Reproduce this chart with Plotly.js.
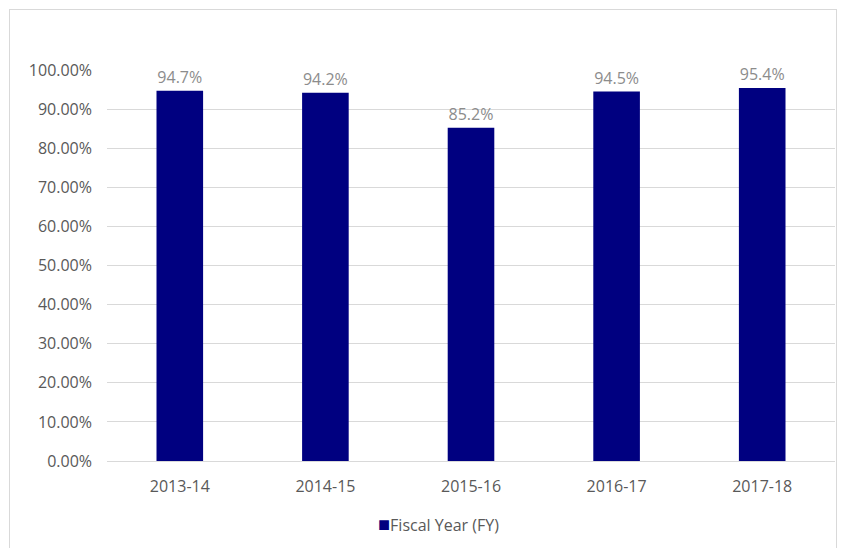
<!DOCTYPE html>
<html>
<head>
<meta charset="utf-8">
<script src="https://cdn.plot.ly/plotly-3.0.1.min.js"></script>
<style>
html,body{margin:0;padding:0;background:#fff;}
#frame{position:absolute;left:9px;top:9px;width:828px;height:560px;border:1px solid #d9d9d9;box-sizing:border-box;}
#chart{position:absolute;left:0;top:0;width:842px;height:548px;}
</style>
</head>
<body>
<div id="frame"></div>
<div id="chart"></div>
<script>
const categories = ["2013-14", "2014-15", "2015-16", "2016-17", "2017-18"];
const values = [94.7, 94.2, 85.2, 94.5, 95.4];
const seriesName = "Fiscal Year (FY)";
const yTicks = [0, 10, 20, 30, 40, 50, 60, 70, 80, 90, 100];

const fontFamily = "'Open Sans', 'Liberation Sans', sans-serif";
const barColor = "#000080";

const trace = {
  type: "bar",
  x: categories,
  y: values,
  name: seriesName,
  marker: {color: barColor},
  text: values.map(v => v.toFixed(1) + "%"),
  textposition: "outside",
  textfont: {color: "#8c8c8c", size: 16, family: fontFamily},
  cliponaxis: false,
  showlegend: false,
  hoverinfo: "x+y"
};

const layout = {
  width: 842,
  height: 548,
  paper_bgcolor: "rgba(0,0,0,0)",
  plot_bgcolor: "rgba(0,0,0,0)",
  margin: {l: 107, r: 7, t: 70, b: 87},
  bargap: 0.68,
  font: {family: fontFamily, color: "#595959", size: 16},
  xaxis: {
    type: "category",
    showgrid: false,
    showline: false,
    ticks: "",
    tickfont: {size: 16, color: "#595959"},
    ticklabelstandoff: 14
  },
  yaxis: {
    range: [0, 100],
    tickvals: yTicks,
    ticktext: yTicks.map(v => v.toFixed(2) + "%"),
    showgrid: true,
    gridcolor: "#d9d9d9",
    gridwidth: 1,
    zeroline: true,
    zerolinecolor: "#d9d9d9",
    showline: false,
    ticks: "",
    ticklabelstandoff: 14,
    tickfont: {size: 16, color: "#595959"}
  },
  annotations: [{
    xref: "paper", yref: "paper",
    x: 0.455, y: -0.16,
    xanchor: "center", yanchor: "middle",
    showarrow: false,
    text: '<span style="color:' + barColor + ';font-size:20px">■</span>' + seriesName,
    font: {size: 16, color: "#595959", family: fontFamily}
  }],
  showlegend: false
};

Plotly.newPlot("chart", [trace], layout, {displayModeBar: false, staticPlot: true});
</script>
</body>
</html>
